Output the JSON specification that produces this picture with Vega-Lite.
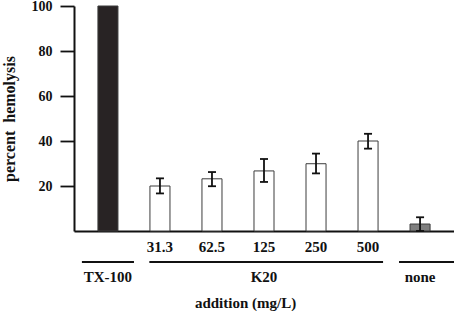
{
  "$schema": "https://vega.github.io/schema/vega-lite/v6.json",
  "width": 380,
  "height": 225,
  "autosize": {"type": "none"},
  "padding": {"left": 74, "top": 6, "right": 0, "bottom": 80},
  "background": "white",
  "config": {
    "view": {"stroke": null},
    "font": "Liberation Serif",
    "axis": {"labelFont": "Liberation Serif", "titleFont": "Liberation Serif", "grid": false, "labelColor": "#111", "titleColor": "#111", "domainColor": "#111", "tickColor": "#111", "domainWidth": 2, "labelFontWeight": "bold", "titleFontWeight": "bold", "titleFontSize": 15},
    "axisX": {"labelAngle": 0, "labelFontSize": 15, "labelPadding": 8, "ticks": false, "titleX": 171, "titleY": 71, "titleAlign": "center", "titleBaseline": "middle"},
    "axisY": {"tickSize": 14, "tickWidth": 1.8, "labelFontSize": 14, "labelPadding": 8, "titlePadding": 14, "titleFontSize": 16}
  },
  "datasets": {
    "bars": [
      {"addition": "TX-100", "group": "TX-100", "hemolysis": 100, "lo": null, "hi": null},
      {"addition": "31.3", "group": "K20", "hemolysis": 20.0, "lo": 16.7, "hi": 23.4},
      {"addition": "62.5", "group": "K20", "hemolysis": 23.2, "lo": 19.9, "hi": 26.2},
      {"addition": "125", "group": "K20", "hemolysis": 26.7, "lo": 21.8, "hi": 32.0},
      {"addition": "250", "group": "K20", "hemolysis": 29.9, "lo": 25.6, "hi": 34.4},
      {"addition": "500", "group": "K20", "hemolysis": 40.0, "lo": 36.6, "hi": 43.2},
      {"addition": "none", "group": "none", "hemolysis": 3.1, "lo": 0, "hi": 6.1}
    ],
    "groups": [
      {"group": "TX-100", "first": "TX-100", "last": "TX-100", "center": "TX-100"},
      {"group": "K20", "first": "31.3", "last": "500", "center": "125"},
      {"group": "none", "first": "none", "last": "none", "center": "none"}
    ]
  },
  "layer": [
    {
      "data": {"name": "bars"},
      "mark": {"type": "bar", "stroke": "#3c3c3c", "strokeWidth": 1},
      "encoding": {
        "x": {
          "field": "addition",
          "type": "nominal",
          "sort": null,
          "title": "addition (mg/L)",
          "scale": {"domain": ["TX-100", "31.3", "62.5", "125", "250", "500", "none"], "paddingInner": 0.615, "paddingOuter": 0.46},
          "axis": {"labelExpr": "datum.value == 'TX-100' || datum.value == 'none' ? '' : datum.label"}
        },
        "y": {
          "field": "hemolysis",
          "type": "quantitative",
          "title": "percent\u00a0 hemolysis",
          "scale": {"domain": [0, 100], "nice": false},
          "axis": {"values": [20, 40, 60, 80, 100]}
        },
        "fill": {
          "field": "group",
          "type": "nominal",
          "scale": {"domain": ["TX-100", "K20", "none"], "range": ["#282324", "#ffffff", "#7f7f7f"]},
          "legend": null
        }
      }
    },
    {
      "data": {"name": "bars"},
      "mark": {"type": "rule", "color": "#111", "strokeWidth": 1.8},
      "encoding": {
        "x": {"field": "addition", "type": "nominal", "bandPosition": 0.5, "title": "addition (mg/L)", "axis": {"labelExpr": "datum.value == 'TX-100' || datum.value == 'none' ? '' : datum.label"}},
        "y": {"field": "lo", "type": "quantitative", "title": "percent\u00a0 hemolysis", "axis": {"values": [20, 40, 60, 80, 100]}},
        "y2": {"field": "hi"}
      }
    },
    {
      "data": {"name": "bars"},
      "mark": {"type": "tick", "orient": "horizontal", "size": 8, "thickness": 1.8, "color": "#111", "opacity": 1},
      "encoding": {
        "x": {"field": "addition", "type": "nominal", "title": "addition (mg/L)", "axis": {"labelExpr": "datum.value == 'TX-100' || datum.value == 'none' ? '' : datum.label"}},
        "y": {"field": "hi", "type": "quantitative", "title": "percent\u00a0 hemolysis", "axis": {"values": [20, 40, 60, 80, 100]}}
      }
    },
    {
      "data": {"name": "bars"},
      "mark": {"type": "tick", "orient": "horizontal", "size": 8, "thickness": 1.8, "color": "#111", "opacity": 1},
      "encoding": {
        "x": {"field": "addition", "type": "nominal", "title": "addition (mg/L)", "axis": {"labelExpr": "datum.value == 'TX-100' || datum.value == 'none' ? '' : datum.label"}},
        "y": {"field": "lo", "type": "quantitative", "title": "percent\u00a0 hemolysis", "axis": {"values": [20, 40, 60, 80, 100]}}
      }
    },
    {
      "data": {"name": "groups"},
      "transform": [{"filter": "datum.group == 'TX-100'"}],
      "mark": {"type": "rule", "color": "#111", "strokeWidth": 1.8, "yOffset": 31, "clip": false},
      "encoding": {
        "x": {"field": "first", "type": "nominal", "bandPosition": -0.8, "title": "addition (mg/L)", "axis": {"labelExpr": "datum.value == 'TX-100' || datum.value == 'none' ? '' : datum.label"}},
        "x2": {"field": "last", "bandPosition": 1.8},
        "y": {"datum": 0, "type": "quantitative", "title": "percent\u00a0 hemolysis", "axis": {"values": [20, 40, 60, 80, 100]}}
      }
    },
    {
      "data": {"name": "groups"},
      "transform": [{"filter": "datum.group == 'K20'"}],
      "mark": {"type": "rule", "color": "#111", "strokeWidth": 1.8, "yOffset": 31, "clip": false},
      "encoding": {
        "x": {"field": "first", "type": "nominal", "bandPosition": -0.03, "title": "addition (mg/L)", "axis": {"labelExpr": "datum.value == 'TX-100' || datum.value == 'none' ? '' : datum.label"}},
        "x2": {"field": "last", "bandPosition": 1.25},
        "y": {"datum": 0, "type": "quantitative", "title": "percent\u00a0 hemolysis", "axis": {"values": [20, 40, 60, 80, 100]}}
      }
    },
    {
      "data": {"name": "groups"},
      "transform": [{"filter": "datum.group == 'none'"}],
      "mark": {"type": "rule", "color": "#111", "strokeWidth": 1.8, "yOffset": 31, "clip": false},
      "encoding": {
        "x": {"field": "first", "type": "nominal", "bandPosition": -0.55, "title": "addition (mg/L)", "axis": {"labelExpr": "datum.value == 'TX-100' || datum.value == 'none' ? '' : datum.label"}},
        "x2": {"field": "last", "bandPosition": 2.2},
        "y": {"datum": 0, "type": "quantitative", "title": "percent\u00a0 hemolysis", "axis": {"values": [20, 40, 60, 80, 100]}}
      }
    },
    {
      "data": {"name": "groups"},
      "mark": {"type": "text", "font": "Liberation Serif", "fontSize": 15, "fontWeight": "bold", "color": "#111", "baseline": "middle", "align": "center", "yOffset": 46},
      "encoding": {
        "x": {"field": "center", "type": "nominal", "bandPosition": 0.5, "title": "addition (mg/L)", "axis": {"labelExpr": "datum.value == 'TX-100' || datum.value == 'none' ? '' : datum.label"}},
        "y": {"datum": 0, "type": "quantitative", "title": "percent\u00a0 hemolysis", "axis": {"values": [20, 40, 60, 80, 100]}},
        "text": {"field": "group"}
      }
    }
  ]
}
